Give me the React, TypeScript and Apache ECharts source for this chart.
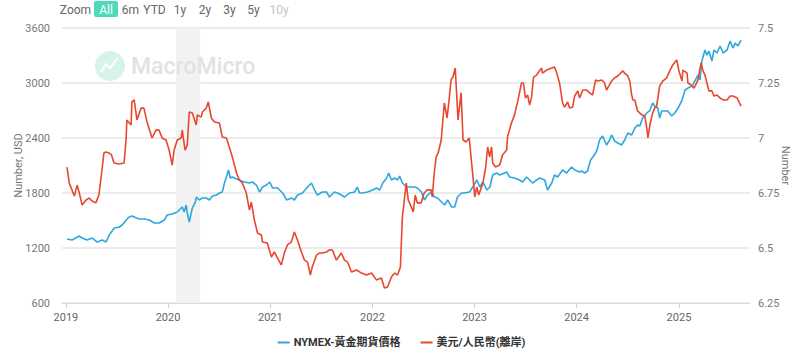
import React, { useEffect, useRef } from "react";
import * as echarts from "echarts";

const goldName = "NYMEX-黃金期貨價格";
const cnhName = "美元/人民幣(離岸)";

const yearLabels = ["2019", "2020", "2021", "2022", "2023", "2024", "2025"];
const leftTicks = [600, 1200, 1800, 2400, 3000, 3600];
const rightTicks = [6.25, 6.5, 6.75, 7, 7.25, 7.5];
const zoomButtons = ["All", "6m", "YTD", "1y", "2y", "3y", "5y", "10y"];
const shadedPeriod = ["2020-01-30", "2020-04-25"];
const xRange = ["2018-12-18", "2025-09-12"];

const goldDates = [
  "2019-01-05","2019-01-23","2019-02-17","2019-02-28","2019-03-18","2019-04-05","2019-04-23","2019-05-11","2019-05-25","2019-06-05",
  "2019-06-23","2019-07-11","2019-07-21","2019-08-05","2019-08-15","2019-08-26","2019-09-10","2019-09-20","2019-10-08","2019-10-26",
  "2019-11-13","2019-12-01","2019-12-19","2019-12-29","2020-01-16","2020-02-03","2020-02-21","2020-02-28","2020-03-06","2020-03-10",
  "2020-03-17","2020-03-24","2020-03-28","2020-04-08","2020-04-11","2020-04-22","2020-05-03","2020-05-17","2020-05-28","2020-06-08",
  "2020-06-22","2020-07-03","2020-07-13","2020-07-21","2020-07-28","2020-08-04","2020-08-11","2020-08-18","2020-09-02","2020-09-12",
  "2020-09-30","2020-10-18","2020-10-29","2020-11-12","2020-11-23","2020-12-04","2020-12-18","2020-12-30","2021-01-09","2021-01-27",
  "2021-02-14","2021-02-28","2021-03-18","2021-03-28","2021-04-08","2021-04-26","2021-05-14","2021-05-28","2021-06-08","2021-06-18",
  "2021-07-06","2021-07-21","2021-07-31","2021-08-18","2021-08-29","2021-09-12","2021-09-23","2021-10-11","2021-10-29","2021-11-08",
  "2021-11-16","2021-11-26","2021-12-14","2022-01-02","2022-01-16","2022-01-27","2022-02-07","2022-02-21","2022-02-28","2022-03-10",
  "2022-03-21","2022-04-01","2022-04-08","2022-04-18","2022-05-03","2022-05-14","2022-05-31","2022-06-11","2022-06-25","2022-07-06",
  "2022-07-17","2022-07-31","2022-08-11","2022-08-22","2022-09-05","2022-09-16","2022-09-27","2022-10-11","2022-10-22","2022-11-01",
  "2022-11-16","2022-11-26","2022-12-14","2022-12-26","2023-01-09","2023-01-20","2023-01-31","2023-02-14","2023-02-25","2023-03-07",
  "2023-03-21","2023-04-01","2023-04-26","2023-05-06","2023-05-24","2023-06-11","2023-06-22","2023-07-06","2023-07-17","2023-07-28",
  "2023-08-11","2023-08-22","2023-09-09","2023-09-19","2023-10-04","2023-10-14","2023-10-25","2023-11-12","2023-11-26","2023-12-14",
  "2023-12-25","2024-01-12","2024-01-19","2024-01-30","2024-02-09","2024-02-20","2024-03-02","2024-03-13","2024-03-23","2024-04-03",
  "2024-04-17","2024-04-28","2024-05-05","2024-05-16","2024-05-27","2024-06-10","2024-06-21","2024-07-02","2024-07-16","2024-07-27",
  "2024-08-06","2024-08-14","2024-08-24","2024-09-08","2024-09-18","2024-09-29","2024-10-06","2024-10-17","2024-10-24","2024-10-31",
  "2024-11-11","2024-11-22","2024-12-06","2024-12-17","2024-12-29","2025-01-12","2025-01-23","2025-02-02","2025-02-17","2025-02-27",
  "2025-03-10","2025-03-17","2025-03-24","2025-04-04","2025-04-11","2025-04-18","2025-04-29","2025-05-06","2025-05-17","2025-05-28",
  "2025-06-08","2025-06-22","2025-07-03","2025-07-13","2025-07-21","2025-07-31","2025-08-11"
];
const goldValues = [
  1298,1287,1331,1309,1287,1309,1265,1287,1265,1342,
  1418,1429,1451,1505,1538,1549,1527,1516,1516,1505,
  1473,1473,1505,1560,1571,1593,1647,1593,1669,1582,
  1484,1582,1636,1702,1756,1724,1745,1745,1724,1767,
  1778,1800,1811,1909,1975,2051,1964,1975,1953,1942,
  1920,1909,1920,1887,1811,1865,1887,1920,1855,1855,
  1800,1724,1745,1724,1778,1800,1865,1909,1833,1778,
  1811,1811,1756,1811,1800,1778,1756,1800,1811,1865,
  1800,1800,1811,1833,1855,1833,1909,1964,2018,1942,
  1964,1942,1985,1909,1865,1865,1865,1855,1811,1724,
  1778,1811,1756,1745,1702,1669,1724,1647,1647,1756,
  1800,1800,1811,1865,1942,1865,1920,1833,1865,1996,
  2018,1996,2029,1975,1964,1942,1920,1975,1942,1909,
  1942,1964,1942,1833,1909,1996,1975,2051,2018,2084,
  2051,2029,2040,2018,2040,2160,2204,2258,2378,2422,
  2324,2378,2433,2367,2345,2324,2378,2455,2433,2509,
  2542,2531,2618,2673,2695,2782,2749,2727,2618,2695,
  2695,2695,2640,2673,2727,2814,2924,2945,2967,3022,
  3087,3033,3240,3360,3305,3349,3240,3360,3327,3404,
  3327,3360,3458,3382,3436,3404,3469
];

const cnhDates = [
  "2019-01-05","2019-01-13","2019-01-31","2019-02-10","2019-02-17","2019-02-28","2019-03-14","2019-03-25","2019-04-04","2019-04-18",
  "2019-04-29","2019-05-10","2019-05-17","2019-05-24","2019-06-04","2019-06-13","2019-06-22","2019-07-10","2019-07-28","2019-08-04",
  "2019-08-07","2019-08-22","2019-08-25","2019-09-02","2019-09-12","2019-09-27","2019-10-07","2019-10-18","2019-11-05","2019-11-19",
  "2019-11-30","2019-12-11","2019-12-25","2020-01-05","2020-01-16","2020-01-23","2020-02-03","2020-02-17","2020-02-21","2020-03-02",
  "2020-03-10","2020-03-17","2020-03-28","2020-04-11","2020-04-15","2020-04-29","2020-05-03","2020-05-17","2020-05-24","2020-06-04",
  "2020-06-15","2020-07-03","2020-07-13","2020-07-28","2020-08-07","2020-08-18","2020-09-02","2020-09-12","2020-09-23","2020-10-07",
  "2020-10-18","2020-10-25","2020-11-05","2020-11-16","2020-11-30","2020-12-04","2020-12-21","2021-01-05","2021-01-15","2021-01-26",
  "2021-02-09","2021-02-20","2021-03-03","2021-03-17","2021-03-28","2021-04-08","2021-04-22","2021-05-03","2021-05-14","2021-05-24",
  "2021-05-31","2021-06-15","2021-06-25","2021-07-06","2021-07-21","2021-07-31","2021-08-11","2021-08-25","2021-09-12","2021-09-23",
  "2021-10-04","2021-10-18","2021-11-05","2021-11-23","2021-12-11","2021-12-29","2022-01-15","2022-02-02","2022-02-13","2022-02-24",
  "2022-03-10","2022-03-21","2022-04-01","2022-04-11","2022-04-18","2022-04-25","2022-05-02","2022-05-09","2022-05-20","2022-05-27",
  "2022-06-03","2022-06-10","2022-06-24","2022-07-05","2022-07-16","2022-07-30","2022-08-03","2022-08-10","2022-08-17","2022-08-24",
  "2022-09-04","2022-09-15","2022-09-25","2022-10-02","2022-10-09","2022-10-16","2022-10-24","2022-10-27","2022-11-03","2022-11-14",
  "2022-11-21","2022-12-02","2022-12-13","2022-12-24","2023-01-02","2023-01-09","2023-01-16","2023-01-31","2023-02-10","2023-02-17",
  "2023-02-24","2023-03-03","2023-03-07","2023-03-17","2023-04-01","2023-04-11","2023-04-26","2023-04-29","2023-05-13","2023-05-24",
  "2023-06-04","2023-06-18","2023-06-25","2023-07-02","2023-07-10","2023-07-17","2023-07-24","2023-07-31","2023-08-11","2023-08-18",
  "2023-08-29","2023-09-01","2023-09-16","2023-10-04","2023-10-14","2023-10-22","2023-11-01","2023-11-12","2023-11-19","2023-11-30",
  "2023-12-07","2023-12-18","2023-12-25","2024-01-05","2024-01-12","2024-01-23","2024-02-06","2024-02-17","2024-02-27","2024-03-09",
  "2024-03-16","2024-03-31","2024-04-10","2024-04-17","2024-04-25","2024-05-05","2024-05-16","2024-05-27","2024-06-14","2024-06-21",
  "2024-07-02","2024-07-09","2024-07-16","2024-07-20","2024-07-27","2024-08-06","2024-08-21","2024-09-01","2024-09-08","2024-09-12",
  "2024-09-19","2024-09-29","2024-10-06","2024-10-13","2024-10-24","2024-11-04","2024-11-18","2024-11-29","2024-12-10","2024-12-24",
  "2025-01-01","2025-01-12","2025-01-15","2025-01-30","2025-02-02","2025-02-13","2025-02-24","2025-03-10","2025-03-21","2025-03-28",
  "2025-04-04","2025-04-11","2025-04-18","2025-04-29","2025-05-06","2025-05-17","2025-05-28","2025-06-08","2025-06-22","2025-07-03",
  "2025-07-13","2025-07-28","2025-07-31","2025-08-11"
];
const cnhValues = [
  6.868,6.795,6.736,6.786,6.755,6.695,6.718,6.727,6.714,6.705,
  6.741,6.855,6.932,6.936,6.932,6.923,6.886,6.882,6.886,6.991,
  7.082,7.059,7.164,7.173,7.082,7.136,7.136,7.073,7.0,7.036,
  7.036,7.0,6.991,6.945,6.877,6.945,6.991,7.0,7.036,6.945,
  6.968,7.118,7.114,7.059,7.105,7.095,7.118,7.136,7.164,7.091,
  7.073,7.068,7.005,7.0,6.959,6.914,6.841,6.809,6.795,6.75,
  6.673,6.709,6.627,6.568,6.559,6.527,6.523,6.459,6.482,6.455,
  6.423,6.477,6.514,6.527,6.573,6.536,6.482,6.445,6.436,6.377,
  6.414,6.468,6.477,6.477,6.482,6.491,6.491,6.445,6.477,6.445,
  6.436,6.391,6.4,6.386,6.377,6.386,6.355,6.364,6.318,6.323,
  6.368,6.386,6.377,6.414,6.641,6.718,6.795,6.718,6.686,6.664,
  6.741,6.705,6.705,6.75,6.764,6.764,6.732,6.841,6.914,6.932,
  6.991,7.159,7.091,7.173,7.264,7.277,7.318,7.25,7.082,7.205,
  6.991,6.982,7.0,6.855,6.732,6.777,6.741,6.795,6.868,6.959,
  6.914,6.959,6.886,6.868,6.877,6.923,6.945,7.005,7.068,7.105,
  7.164,7.25,7.25,7.182,7.195,7.15,7.186,7.277,7.286,7.3,
  7.318,7.295,7.309,7.318,7.323,7.295,7.25,7.159,7.141,7.164,
  7.136,7.141,7.191,7.214,7.182,7.218,7.218,7.205,7.195,7.264,
  7.259,7.264,7.25,7.218,7.236,7.259,7.273,7.282,7.305,7.295,
  7.282,7.259,7.195,7.173,7.173,7.123,7.105,7.1,7.045,7.0,
  7.059,7.114,7.136,7.145,7.236,7.259,7.273,7.305,7.332,7.355,
  7.305,7.259,7.309,7.295,7.25,7.241,7.227,7.264,7.341,7.305,
  7.286,7.25,7.214,7.214,7.191,7.195,7.182,7.173,7.173,7.191,
  7.191,7.182,7.173,7.145
];

const FONT = "Roboto, 'Noto Sans CJK TC', sans-serif";
const BLUE = "#2ea7dd";
const RED = "#e8472e";

const ts = (d: string) => echarts.time.parse(d).getTime();

export default function App() {
  const ref = useRef<HTMLDivElement>(null);

  useEffect(() => {
    if (!ref.current) return;
    const chart = echarts.init(ref.current, undefined, { renderer: "svg" });

    const goldData = goldDates.map((d, i) => [ts(d), goldValues[i]]);
    const cnhData = cnhDates.map((d, i) => [ts(d), cnhValues[i]]);
    const yearTicks = yearLabels.map((y) => ts(y + "-01-01"));

    const btnX = [106, 130.5, 154.5, 180, 205, 229.5, 253.5, 279];
    const graphics: any[] = [
      {
        type: "text",
        x: 75.5,
        y: 9.5,
        style: { text: "Zoom", fill: "#666", font: `12px ${FONT}`, align: "center", verticalAlign: "middle" },
      },
      {
        type: "rect",
        shape: { x: 94, y: 1, width: 24, height: 16, r: 2 },
        style: { fill: "#4fd8b9" },
      },
    ];
    zoomButtons.forEach((b, i) => {
      graphics.push({
        type: "text",
        x: btnX[i],
        y: 9.5,
        style: {
          text: b,
          fill: i === 0 ? "#ffffff" : b === "10y" ? "#c4c4c4" : "#666",
          font: `12px ${FONT}`,
          align: "center",
          verticalAlign: "middle",
        },
      });
    });
    graphics.push(
      {
        type: "circle",
        shape: { cx: 110, cy: 66, r: 15 },
        style: { fill: "#d6f3ec" },
        z: 2,
      },
      {
        type: "polyline",
        shape: { points: [[101, 72], [106, 64], [110, 68], [118, 58]] },
        style: { stroke: "#ffffff", lineWidth: 2, fill: null },
        z: 2,
      },
      {
        type: "text",
        x: 131,
        y: 66,
        style: {
          text: "MacroMicro",
          fill: "#e2e2e2",
          font: `500 23px ${FONT}`,
          verticalAlign: "middle",
        },
        z: 2,
      }
    );

    const option: any = {
      animation: false,
      textStyle: { fontFamily: FONT },
      grid: { left: 62, right: 53, top: 28, bottom: 52, containLabel: false, outerBoundsMode: "none" },
      legend: {
        bottom: 2,
        left: "center",
        itemGap: 20,
        itemWidth: 12,
        itemHeight: 2,
        icon: "rect",
        textStyle: { color: "#333", fontSize: 11, fontWeight: "bold", fontFamily: FONT, padding: [0, 0, 0, -1] },
        data: [goldName, cnhName],
      },
      graphic: graphics,
      xAxis: {
        type: "value",
        min: ts(xRange[0]),
        max: ts(xRange[1]),
        axisLine: { show: true, lineStyle: { color: "#dcdcdc", width: 1 } },
        axisTick: {
          show: true,
          length: 5,
          lineStyle: { color: "#d0d0d0" },
          customValues: yearTicks,
        },
        axisLabel: {
          color: "#666",
          fontSize: 11,
          margin: 9,
          customValues: yearTicks,
          formatter: (v: number) => String(new Date(v).getFullYear()),
        },
        splitLine: { show: false },
      },
      yAxis: [
        {
          type: "value",
          min: leftTicks[0],
          max: leftTicks[leftTicks.length - 1],
          interval: 600,
          name: "Number, USD",
          nameLocation: "middle",
          nameRotate: 90,
          nameGap: 38,
          nameMoveOverlap: false,
          nameTextStyle: { color: "#777", fontSize: 11 },
          axisLine: { show: false },
          axisTick: { show: false },
          axisLabel: { color: "#777", fontSize: 11, margin: 12, formatter: (v: number) => String(v) },
          splitLine: { lineStyle: { color: "#e6e6e6", width: 1.5 } },
        },
        {
          type: "value",
          min: rightTicks[0],
          max: rightTicks[rightTicks.length - 1],
          interval: 0.25,
          name: "Number",
          nameLocation: "middle",
          nameRotate: -90,
          nameGap: 30,
          nameMoveOverlap: false,
          nameTextStyle: { color: "#777", fontSize: 11 },
          axisLine: { show: false },
          axisTick: { show: false },
          axisLabel: { color: "#777", fontSize: 11, margin: 8, formatter: (v: number) => String(v) },
          splitLine: { show: false },
        },
      ],
      series: [
        {
          name: goldName,
          type: "line",
          yAxisIndex: 0,
          data: goldData,
          showSymbol: false,
          symbol: "none",
          lineStyle: { color: BLUE, width: 1.6 },
          itemStyle: { color: BLUE },
          markArea: {
            silent: true,
            z: 1,
            itemStyle: { color: "#f2f2f2" },
            data: [[{ xAxis: ts(shadedPeriod[0]) }, { xAxis: ts(shadedPeriod[1]) }]],
          },
          z: 3,
        },
        {
          name: cnhName,
          type: "line",
          yAxisIndex: 1,
          data: cnhData,
          showSymbol: false,
          symbol: "none",
          lineStyle: { color: RED, width: 1.6 },
          itemStyle: { color: RED },
          z: 4,
        },
      ],
    };

    chart.setOption(option);
    return () => chart.dispose();
  }, []);

  return (
    <div
      ref={ref}
      style={{ position: "fixed", left: 0, top: 0, width: 803, height: 355, background: "#fff" }}
    />
  );
}
